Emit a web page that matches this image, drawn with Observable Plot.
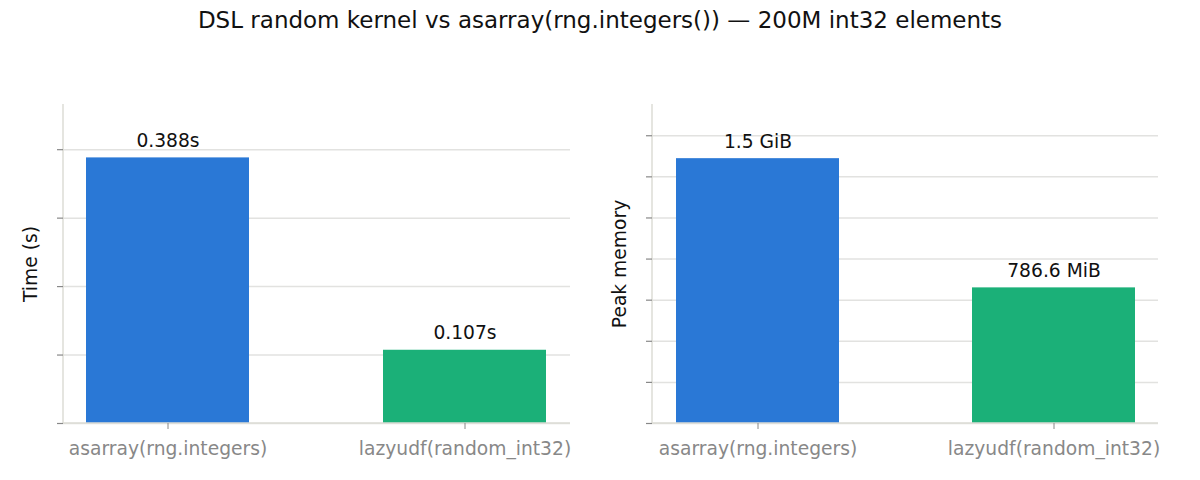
<!DOCTYPE html>
<html>
<head>
<meta charset="utf-8">
<script src="https://cdn.jsdelivr.net/npm/d3@7"></script>
<script src="https://cdn.jsdelivr.net/npm/@observablehq/plot@0.6"></script>
<style>
  body { margin: 0; background: #fff; font-family: "DejaVu Sans", sans-serif; }
  #wrap { width: 1200px; }
  #title { height: 40px; line-height: 40px; text-align: center; font-size: 23px; color: #111; }
  #row { display: flex; }
</style>
</head>
<body>
<div id="wrap">
  <div id="title">DSL random kernel vs asarray(rng.integers()) — 200M int32 elements</div>
  <div id="row"></div>
</div>
<script>
const categories = ["asarray(rng.integers)", "lazyudf(random_int32)"];
const barColors = ["#2a78d6", "#1bb078"];
const timeValues = [0.388, 0.107];
const timeLabels = ["0.388s", "0.107s"];
const timeTicks = [0, 0.1, 0.2, 0.3, 0.4];
const memValues = [1610612736, 824815206];
const memLabels = ["1.5 GiB", "786.6 MiB"];
const memTicks = [0, 250e6, 500e6, 750e6, 1000e6, 1250e6, 1500e6, 1750e6];

function spine(index, scales, values, dims) {
  const g = d3.create("svg:g");
  g.append("line")
    .attr("x1", dims.marginLeft).attr("x2", dims.marginLeft)
    .attr("y1", dims.marginTop).attr("y2", dims.height - dims.marginBottom)
    .attr("stroke", "#dcdcd6").attr("stroke-width", 1.5);
  g.append("line")
    .attr("x1", dims.marginLeft).attr("x2", dims.width - dims.marginRight)
    .attr("y1", dims.height - dims.marginBottom).attr("y2", dims.height - dims.marginBottom)
    .attr("stroke", "#dcdcd6").attr("stroke-width", 1.5);
  return g.node();
}

function panel(values, labels, ticks, yMax, yLabel, mLeft, mRight) {
  const data = categories.map((c, i) => ({cat: c, v: values[i], label: labels[i]}));
  return Plot.plot({
    width: 600,
    height: 440,
    marginLeft: mLeft,
    marginRight: mRight,
    marginTop: 64,
    marginBottom: 57,
    style: {fontFamily: "DejaVu Sans", fontSize: "18.7px", background: "white", overflow: "visible"},
    x: {domain: categories, paddingInner: 0.45, paddingOuter: 0.078, align: 0.5},
    y: {domain: [0, yMax]},
    color: {domain: categories, range: barColors},
    marks: [
      Plot.gridY(ticks, {stroke: "#e2e2e0", strokeOpacity: 1, strokeWidth: 1.5}),
      Plot.barY(data, {x: "cat", y: "v", fill: "cat"}),
      spine,
      Plot.axisY({ticks: ticks, tickSize: 6, tickFormat: () => "", stroke: "#888", strokeWidth: 1.2, label: null}),
      Plot.axisX({tickSize: 6, tickPadding: 12, stroke: "#888", fill: "#888", fontSize: 18.7, label: null}),
      Plot.text(data, {x: "cat", y: "v", text: "label", lineAnchor: "bottom", dy: -11, fill: "#111", fontSize: 18.7}),
      Plot.text([yLabel], {frameAnchor: "left", rotate: -90, dx: -32, fill: "#111", fontSize: 18.7, textAnchor: "middle"})
    ]
  });
}

const row = document.getElementById("row");
row.appendChild(panel(timeValues, timeLabels, timeTicks, 0.466, "Time (s)", 63, 30));
row.appendChild(panel(memValues, memLabels, memTicks, 1.94e9, "Peak memory", 52, 42));
</script>
</body>
</html>
